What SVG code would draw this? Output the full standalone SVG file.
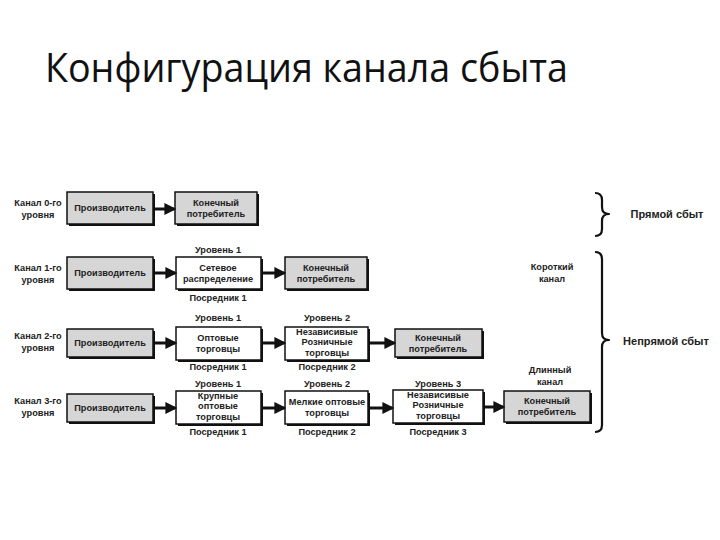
<svg xmlns="http://www.w3.org/2000/svg" width="720" height="540" viewBox="0 0 720 540">
<style>
.t{font-family:"Liberation Sans",Arial,sans-serif;font-size:9.2px;font-weight:bold;fill:#222;text-anchor:middle}
.big{font-size:11px}
.g{fill:#d6d6d6;stroke:#111;stroke-width:1.5}
.w{fill:#fff;stroke:#111;stroke-width:1.5}
.sh{fill:#111}
.a{stroke:#111;stroke-width:3;fill:none;marker-end:url(#ah)}
.br{fill:none;stroke:#111;stroke-width:2.2;stroke-linejoin:round}
</style>
<defs>
<marker id="ah" markerWidth="4" markerHeight="4" refX="3.2" refY="2" orient="auto" markerUnits="strokeWidth">
<path d="M0,0 L4,2 L0,4 z" fill="#111"/>
</marker>
</defs>
<rect width="720" height="540" fill="#fff"/>
<text x="45" y="82" font-family="'Open Sans','Noto Sans',sans-serif" font-size="40" fill="#111" textLength="523" lengthAdjust="spacingAndGlyphs">Конфигурация канала сбыта</text>

<g id="labels">
<text class="t" x="38" y="206">Канал 0-го</text><text class="t" x="38" y="218">уровня</text>
<text class="t" x="38" y="271">Канал 1-го</text><text class="t" x="38" y="283">уровня</text>
<text class="t" x="38" y="339">Канал 2-го</text><text class="t" x="38" y="351">уровня</text>
<text class="t" x="38" y="404">Канал 3-го</text><text class="t" x="38" y="416">уровня</text>
<text class="t" x="218" y="253">Уровень 1</text><text class="t" x="218" y="301">Посредник 1</text>
<text class="t" x="218" y="321">Уровень 1</text><text class="t" x="218" y="370">Посредник 1</text>
<text class="t" x="327" y="321">Уровень 2</text><text class="t" x="327" y="370">Посредник 2</text>
<text class="t" x="218" y="387">Уровень 1</text><text class="t" x="218" y="435">Посредник 1</text>
<text class="t" x="327" y="387">Уровень 2</text><text class="t" x="327" y="435">Посредник 2</text>
<text class="t" x="438" y="387">Уровень 3</text><text class="t" x="438" y="435">Посредник 3</text>
<text class="t" x="552" y="270">Короткий</text><text class="t" x="552" y="282">канал</text>
<text class="t" x="550" y="373">Длинный</text><text class="t" x="550" y="385">канал</text>
<text class="t big" x="667" y="218">Прямой сбыт</text>
<text class="t big" x="666" y="345">Непрямой сбыт</text>
</g>

<g id="r0p"><rect class="sh" x="69" y="194" width="86" height="32"/><rect class="g" x="67" y="192" width="86" height="32"/><text class="t" x="110" y="211">Производитель</text></g>
<g id="r0c"><rect class="sh" x="177" y="194" width="82" height="32"/><rect class="g" x="175" y="192" width="82" height="32"/><text class="t" x="216" y="206">Конечный</text><text class="t" x="216" y="217">потребитель</text></g>

<g id="r1p"><rect class="sh" x="69" y="259" width="86" height="32"/><rect class="g" x="67" y="257" width="86" height="32"/><text class="t" x="110" y="276">Производитель</text></g>
<g id="r1m"><rect class="sh" x="178" y="259" width="85" height="32"/><rect class="w" x="176" y="257" width="85" height="32"/><text class="t" x="218" y="271">Сетевое</text><text class="t" x="218" y="282">распределение</text></g>
<g id="r1c"><rect class="sh" x="287" y="259" width="82" height="32"/><rect class="g" x="285" y="257" width="82" height="32"/><text class="t" x="326" y="271">Конечный</text><text class="t" x="326" y="282">потребитель</text></g>

<g id="r2p"><rect class="sh" x="69" y="331" width="86" height="28"/><rect class="g" x="67" y="329" width="86" height="28"/><text class="t" x="110" y="346">Производитель</text></g>
<g id="r2m1"><rect class="sh" x="178" y="329" width="85" height="33"/><rect class="w" x="176" y="327" width="85" height="33"/><text class="t" x="218" y="341">Оптовые</text><text class="t" x="218" y="352">торговцы</text></g>
<g id="r2m2"><rect class="sh" x="287" y="329" width="83" height="33"/><rect class="w" x="285" y="327" width="83" height="33"/><text class="t" x="327" y="335">Независивые</text><text class="t" x="327" y="345">Розничные</text><text class="t" x="327" y="356">торговцы</text></g>
<g id="r2c"><rect class="sh" x="397" y="331" width="87" height="28"/><rect class="g" x="395" y="329" width="87" height="28"/><text class="t" x="438" y="341">Конечный</text><text class="t" x="438" y="352">потребитель</text></g>

<g id="r3p"><rect class="sh" x="69" y="396" width="86" height="28"/><rect class="g" x="67" y="394" width="86" height="28"/><text class="t" x="110" y="411">Производитель</text></g>
<g id="r3m1"><rect class="sh" x="178" y="393" width="85" height="33"/><rect class="w" x="176" y="391" width="85" height="33"/><text class="t" x="218" y="399">Крупные</text><text class="t" x="218" y="409">оптовые</text><text class="t" x="218" y="420">торговцы</text></g>
<g id="r3m2"><rect class="sh" x="287" y="393" width="83" height="33"/><rect class="w" x="285" y="391" width="83" height="33"/><text class="t" x="327" y="405">Мелкие оптовые</text><text class="t" x="327" y="416">торговцы</text></g>
<g id="r3m3"><rect class="sh" x="395" y="392" width="90" height="33"/><rect class="w" x="393" y="390" width="90" height="33"/><text class="t" x="438" y="398">Независивые</text><text class="t" x="438" y="408">Розничные</text><text class="t" x="438" y="419">торговцы</text></g>
<g id="r3c"><rect class="sh" x="506" y="393" width="86" height="31"/><rect class="g" x="504" y="391" width="86" height="31"/><text class="t" x="547" y="404">Конечный</text><text class="t" x="547" y="415">потребитель</text></g>

<g id="connectors">
<line class="a" x1="154" y1="209" x2="174" y2="209"/>
<line class="a" x1="154" y1="273" x2="175" y2="273"/>
<line class="a" x1="262" y1="273" x2="284" y2="273"/>
<line class="a" x1="154" y1="343" x2="175" y2="343"/>
<line class="a" x1="262" y1="343" x2="284" y2="343"/>
<line class="a" x1="369" y1="343" x2="394" y2="343"/>
<line class="a" x1="154" y1="408" x2="175" y2="408"/>
<line class="a" x1="262" y1="408" x2="284" y2="408"/>
<line class="a" x1="369" y1="408" x2="392" y2="408"/>
<line class="a" x1="484" y1="407" x2="503" y2="407"/>
<path class="br" d="M595,193 Q602,193 602,200 L602,207 Q602,214 609,214 Q602,214 602,221 L602,229 Q602,236 595,236"/>
<path class="br" d="M595,252 Q602,252 602,259 L602,333 Q602,340 609,340 Q602,340 602,347 L602,425 Q602,432 595,432"/>
</g>
</svg>
